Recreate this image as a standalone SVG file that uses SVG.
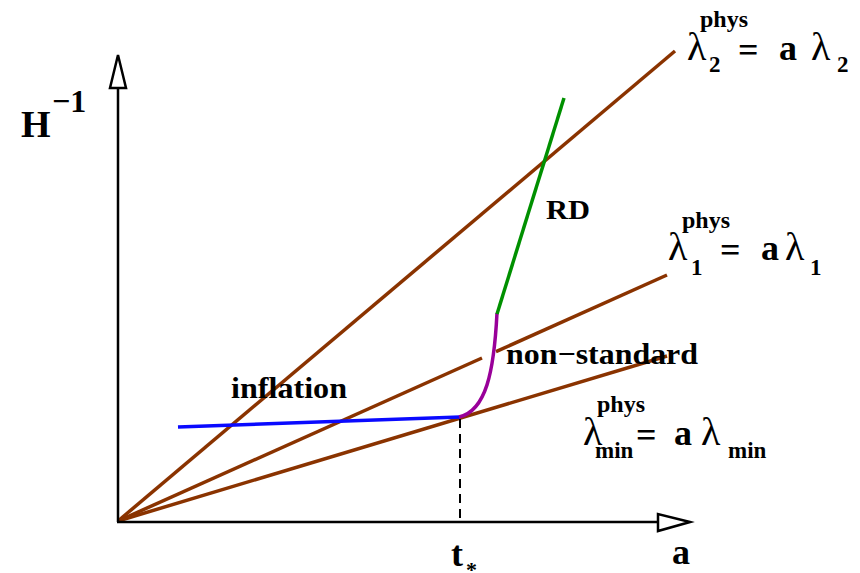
<svg xmlns="http://www.w3.org/2000/svg" width="860" height="573" viewBox="0 0 860 573">
<style>
.brown{stroke:#8a3300;stroke-width:3.5;fill:none;stroke-linecap:butt}
.ax{stroke:#000;stroke-width:2.5;fill:none}
.l{font-weight:normal}
</style>
<rect width="860" height="573" fill="#fff"/>
<g id="connectors">
  <line class="brown" x1="118" y1="521" x2="675" y2="51"/>
  <line class="brown" x1="118" y1="521" x2="482" y2="358"/>
  <line class="brown" x1="496" y1="351.6" x2="667" y2="275"/>
  <line class="brown" x1="118" y1="521" x2="667" y2="356"/>
  <line x1="178" y1="427" x2="460" y2="417" stroke="#0a0aff" stroke-width="3.5"/>
  <path d="M459,417 C486,411 494,372 497,313" stroke="#990099" stroke-width="3.5" fill="none"/>
  <line x1="497" y1="314" x2="564" y2="98" stroke="#009000" stroke-width="3.5"/>
  <line x1="460" y1="419" x2="460" y2="521" stroke="#000" stroke-width="2" stroke-dasharray="9,6"/>
</g>
<g id="axes">
  <line class="ax" x1="118" y1="522" x2="118" y2="88"/>
  <polygon points="118,55 110,88 126,88" fill="#fff" stroke="#000" stroke-width="2.5"/>
  <line class="ax" x1="117" y1="522" x2="658" y2="522"/>
  <polygon points="690,522 658,514 658,531" fill="#fff" stroke="#000" stroke-width="2.5"/>
</g>
<g font-family="Liberation Serif, DejaVu Serif, Times New Roman, serif" font-weight="bold" fill="#000">
<g id="label-H">
  <text x="21" y="137" font-size="38">H</text>
  <text x="52" y="112" font-size="32">−1</text>
</g>
<g id="label-a"><text x="672" y="564" font-size="36">a</text></g>
<g id="label-tstar">
  <text x="451" y="566" font-size="36">t</text>
  <text x="466" y="577" font-size="22">*</text>
</g>
<g id="label-inflation"><text x="231" y="398" font-size="30" textLength="116" lengthAdjust="spacingAndGlyphs">inflation</text></g>
<g id="label-nonstandard"><text x="506" y="364" font-size="30" textLength="192" lengthAdjust="spacingAndGlyphs">non−standard</text></g>
<g id="label-RD"><text x="546" y="219" font-size="28" textLength="44" lengthAdjust="spacingAndGlyphs">RD</text></g>
<g id="label-lambda2">
  <text x="700" y="27" font-size="24">phys</text>
  <text class="l" x="687" y="60" font-size="40">λ</text>
  <text x="709" y="72" font-size="23">2</text>
  <text x="738" y="62" font-size="36">=</text>
  <text x="779" y="60" font-size="36">a</text>
  <text class="l" x="811" y="60" font-size="40">λ</text>
  <text x="837" y="72" font-size="23">2</text>
</g>
<g id="label-lambda1">
  <text x="682" y="228" font-size="24">phys</text>
  <text class="l" x="668" y="260" font-size="40">λ</text>
  <text x="691" y="275" font-size="23">1</text>
  <text x="720" y="262" font-size="36">=</text>
  <text x="761" y="260" font-size="36">a</text>
  <text class="l" x="785" y="260" font-size="40">λ</text>
  <text x="810" y="275" font-size="23">1</text>
</g>
<g id="label-lambdamin">
  <text x="597" y="412" font-size="24">phys</text>
  <text class="l" x="583" y="445" font-size="40">λ</text>
  <text x="595" y="458" font-size="23">min</text>
  <text x="636" y="447" font-size="36">=</text>
  <text x="674" y="445" font-size="36">a</text>
  <text class="l" x="701" y="445" font-size="40">λ</text>
  <text x="728" y="458" font-size="23">min</text>
</g>
</g>
</svg>
